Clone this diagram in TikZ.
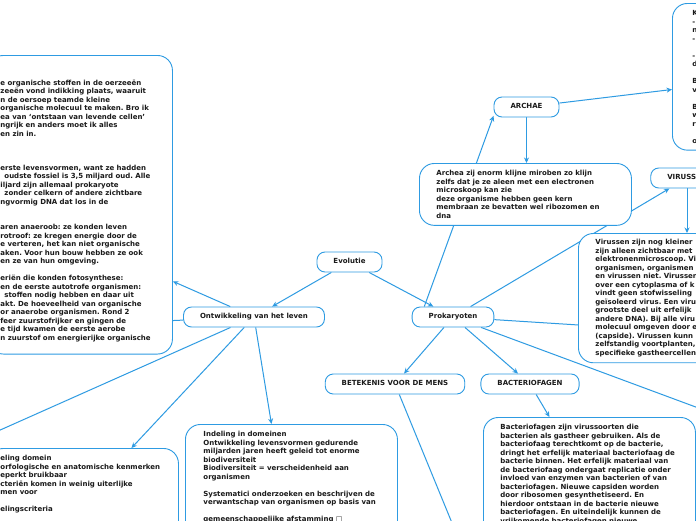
\documentclass[tikz,border=0pt]{standalone}
\usepackage{fontspec}
\setmainfont{DejaVu Sans}
\usetikzlibrary{arrows.meta,backgrounds}
\definecolor{mapblue}{HTML}{2E9BE2}
\definecolor{maptext}{HTML}{1A1A1A}
\newcommand{\mapfont}{\fontsize{7pt}{8.5pt}\selectfont\bfseries\frenchspacing}

\begin{document}
\begin{tikzpicture}[x=1pt,y=-1pt,
    every node/.style={font=\mapfont,text=maptext},
    topic/.style={draw=mapblue,fill=white,line width=0.9pt,rounded corners=8pt,
      minimum height=20pt,inner xsep=16.5pt,inner ysep=0pt,text height=5.2pt,text depth=1.4pt},
    notebox/.style={draw=mapblue,fill=white,line width=0.9pt,rounded corners=15pt,
      anchor=north west,align=left,text width=178pt,inner xsep=17pt,inner ysep=7pt},
    link/.style={draw=mapblue,line width=1pt},
    linkto/.style={link,-{Stealth[length=5.5pt,width=5pt]}}]
  \useasboundingbox (0,0) rectangle (696,520);
  \clip (0,0) rectangle (696,520);

  \node[topic] (evol) at (349.5,262) {Evolutie};
  \node[topic] (ontw) at (254,317) {Ontwikkeling van het leven};
  \node[topic] (prok) at (453,317) {Prokaryoten};
  \node[topic] (betek) at (395,384) {BETEKENIS VOOR DE MENS};
  \node[topic] (bacfag) at (530,384) {BACTERIOFAGEN};
  \node[topic] (archae) at (526.5,107) {ARCHAE};
  \node[topic] (virussen) at (687,178) {VIRUSSEN};

  \node[notebox,text width=160pt,inner xsep=12pt] (bigbox) at (-12,55) {%
    \rule{0pt}{22.6pt}e organische stoffen in de oerzeeën\\
    zeeën vond indikking plaats, waaruit\\
    n de oersoep teamde kleine\\
    organische molecuul te maken. Bro ik\\
    ea van `ontstaan van levende cellen'\\
    ngrijk en anders moet ik alles\\
    en zin in.\\[25.5pt]
    erste levensvormen, want ze hadden\\
    \hspace*{4pt}oudste fossiel is 3,5 miljard oud. Alle\\
    iljard zijn allemaal prokaryote\\
    \hspace*{4pt}zonder celkern of andere zichtbare\\
    ngvormig DNA dat los in de\\[17pt]
    aren anaeroob: ze konden leven\\
    rotroof: ze kregen energie door de\\
    e verteren, het kan niet organische\\
    aken. Voor hun bouw hebben ze ook\\
    en ze van hun omgeving.\\[8.5pt]
    eriën die konden fotosynthese:\\
    en de eerste autotrofe organismen:\\
    \hspace*{4pt}stoffen nodig hebben en daar uit\\
    akt. De hoeveelheid van organische\\
    or anaerobe organismen. Rond 2\\
    feer zuurstofrijker en gingen de\\
    e tijd kwamen de eerste aerobe\\
    n zuurstof om energierijke organische\rule[-7pt]{0pt}{7pt}};

  \node[notebox,inner xsep=20pt] (trbox) at (672,3) {%
    K\\ -\\ n\\ -\\[8.5pt] -\\ d\\[8.5pt] B\\ v\\[8.5pt] B\\ w\\ ri\\[8.5pt] o};

  \node[notebox] (archbox) at (419,163) {%
    Archea zij enorm klijne miroben zo klijn\\
    zelfs dat je ze aleen met een electronen\\
    microskoop kan zie\\
    deze organisme hebben geen kern\\
    membraan ze bevatten wel ribozomen en\\
    dna};

  \node[notebox,inner ysep=6pt] (virbox) at (578,233) {%
    Virussen zijn nog kleiner\\
    zijn alleen zichtbaar met\\
    elektronenmicroscoop. Vi\\
    organismen, organismen\\
    en virussen niet. Virussen\\
    over een cytoplasma of k\\
    vindt geen stofwisseling\\
    geïsoleerd virus. Een viru\\
    grootste deel uit erfelijk\\
    andere DNA). Bij alle viru\\
    molecuul omgeven door e\\
    (capside). Virussen kunn\\
    zelfstandig voortplanten,\\
    specifieke gastheercellen};

  \node[notebox,text width=166pt,inner xsep=12pt] (blbox) at (-12,448) {%
    eling domein\\
    orfologische en anatomische kenmerken\\
    eperkt bruikbaar\\
    cteriën komen in weinig uiterlijke\\
    men voor\\[8.5pt]
    elingscriteria\rule[-40pt]{0pt}{40pt}};

  \node[notebox,inner xsep=18pt,text width=176pt] (indbox) at (185,424) {%
    Indeling in domeinen\\
    Ontwikkeling levensvormen gedurende\\
    miljarden jaren heeft geleid tot enorme\\
    biodiversiteit\\
    Biodiversiteit = verscheidenheid aan\\
    organismen\\[8.5pt]
    Systematici onderzoeken en beschrijven de\\
    verwantschap van organismen op basis van\\[8.5pt]
    gemeenschappelijke afstamming □\rule[-40pt]{0pt}{40pt}};

  \node[notebox] (bacbox) at (483,417) {%
    Bacteriofagen zijn virussoorten die\\
    bacterien als gastheer gebruiken. Als de\\
    bacteriofaag terechtkomt op de bacterie,\\
    dringt het erfelijk materiaal bacteriofaag de\\
    bacterie binnen. Het erfelijk materiaal van\\
    de bacteriofaag ondergaat replicatie onder\\
    invloed van enzymen van bacterien of van\\
    bacteriofagen. Nieuwe capsiden worden\\
    door ribosomen gesynthetiseerd. En\\
    hierdoor ontstaan in de bacterie nieuwe\\
    bacteriofagen. En uiteindelijk kunnen de\\
    vrijkomende bacteriofagen nieuwe\rule[-40pt]{0pt}{40pt}};

  \coordinate (offleft) at (-20,329);
  \coordinate (offlow) at (-20,439);
  \coordinate (offright) at (720,334);
  \coordinate (offrlow) at (720,416);
  \coordinate (offdown) at (459,540);

  \begin{scope}[on background layer]
    \fill[white] (0,0) rectangle (696,520);
    \clip (0,0) rectangle (696,520);
    \draw[linkto] (evol) -- (ontw);
    \draw[linkto] (evol) -- (prok);
    \draw[linkto] (ontw) -- ([yshift=-76.6pt]bigbox.east);
    \draw[link] (ontw) -- (offleft);
    \draw[link] (ontw) -- (offlow);
    \draw[linkto] (ontw) -- ([xshift=48pt]blbox.north);
    \draw[linkto] (ontw) -- ([xshift=-20pt]indbox.north);
    \draw[linkto] (prok.160) -- (archae.195);
    \draw[linkto] (archae) -- (archae |- archbox.north);
    \draw[linkto] (archae) -- ([yshift=-12.7pt]trbox.west);
    \draw[linkto] (prok) -- (virussen);
    \draw[linkto] (virussen) -- (virussen |- virbox.north);
    \draw[link] (prok) -- (offright);
    \draw[link] (prok) -- (offrlow);
    \draw[linkto] (prok) -- (betek);
    \draw[linkto] (prok) -- (bacfag);
    \draw[link] (betek) -- (offdown);
    \draw[linkto] (bacfag) -- ([xshift=-40pt]bacbox.north);
  \end{scope}
\end{tikzpicture}
\end{document}
